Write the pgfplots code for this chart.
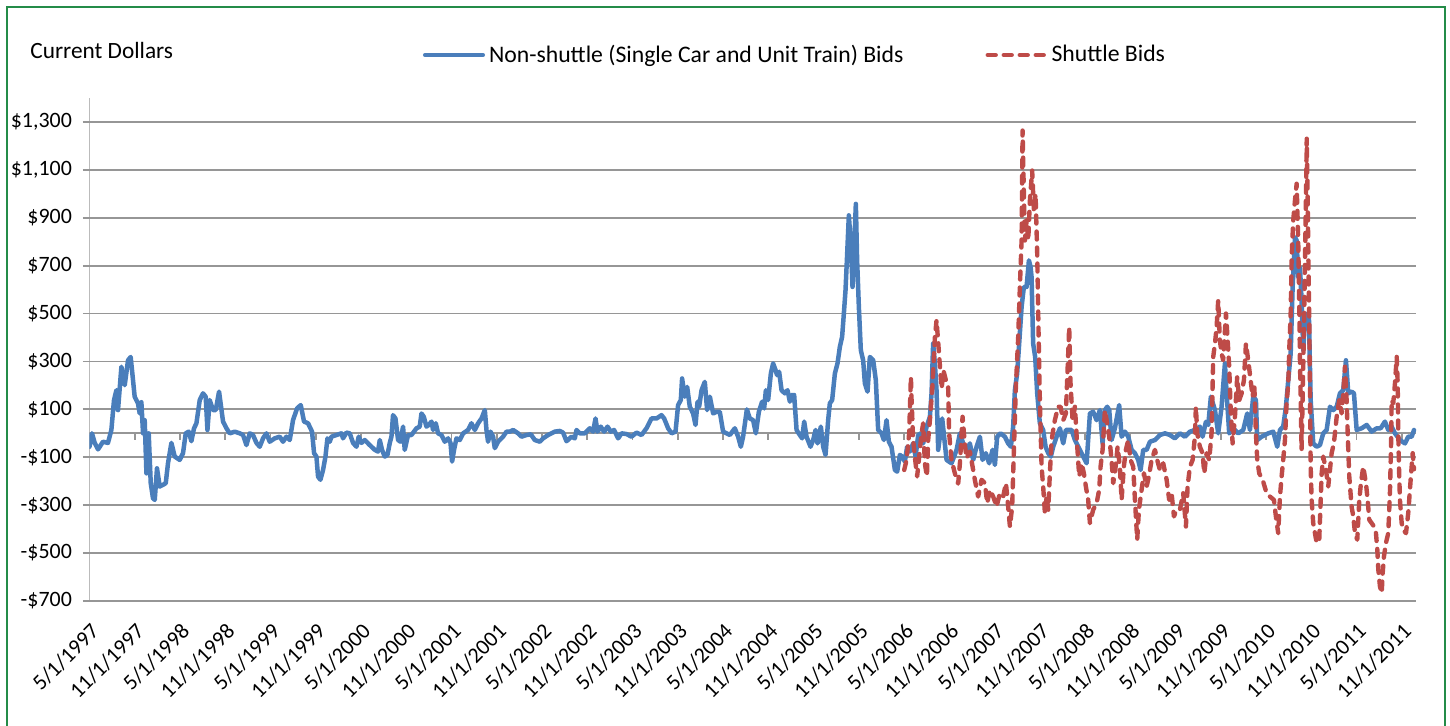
\documentclass[border=0pt]{standalone}
\usepackage{pgfplots}
\pgfplotsset{compat=1.18}
\usepackage{fontspec}
\setmainfont{Carlito}
\definecolor{nsblue}{RGB}{74,126,187}
\definecolor{shred}{RGB}{190,75,72}
\definecolor{gridgray}{RGB}{150,150,150}
\definecolor{framegreen}{RGB}{36,140,72}
\pgfplotstableread{
m v
0.00 -56
0.33 0
0.69 -40
1.13 -67
1.79 -35
2.45 -40
2.90 14
3.25 139
3.57 180
3.78 97
4.23 278
4.67 201
5.11 305
5.46 319
5.99 153
6.43 125
6.66 83
6.88 130
7.10 0
7.32 55
7.55 -167
7.85 0
8.12 -208
8.42 -271
8.65 -278
8.95 -146
9.31 -222
9.75 -215
10.11 -208
10.41 -125
10.86 -40
11.30 -97
11.96 -111
12.40 -83
12.76 0
13.16 7
13.51 -33
13.86 21
14.18 42
14.62 139
15.05 167
15.41 153
15.64 14
15.94 139
16.38 97
16.74 97
17.18 174
17.71 49
18.16 21
18.59 0
19.26 7
19.92 0
20.36 -7
20.81 -49
21.25 0
21.68 -7
22.14 -40
22.57 -56
23.01 -21
23.46 0
23.90 -35
24.56 -21
25.23 -14
25.66 -35
26.11 -14
26.55 -28
26.99 55
27.52 104
28.01 118
28.45 49
28.98 42
29.51 7
29.78 -83
30.09 -97
30.31 -181
30.62 -194
30.97 -153
31.29 -97
31.55 -21
31.86 -35
32.08 -14
32.75 -7
33.41 0
33.62 -21
34.07 3
34.51 0
34.95 -40
35.40 -56
35.70 -14
36.06 -40
36.50 -28
37.16 -49
37.83 -69
38.26 -76
38.49 -28
38.79 -69
39.15 -97
39.51 -90
39.82 -40
40.04 -14
40.25 76
40.57 62
40.92 -28
41.23 -35
41.58 28
41.80 -69
42.24 -7
42.69 -7
43.36 21
43.79 28
44.02 83
44.33 69
44.68 28
44.99 35
45.35 49
45.56 14
45.92 42
46.22 0
46.67 -7
47.11 -35
47.55 -21
47.87 -40
48.08 -118
48.34 -69
48.66 -21
49.10 -28
49.54 0
50.20 14
50.65 42
51.09 14
51.53 42
51.98 62
52.42 97
52.64 14
52.85 -35
53.17 7
53.52 -14
53.74 -62
54.18 -35
54.84 -14
55.29 7
55.73 7
56.17 14
56.83 0
57.28 -14
57.95 -7
58.52 -4
59.05 -28
59.71 -35
60.15 -21
60.81 -7
61.70 7
62.36 10
62.80 3
63.25 -33
63.92 -14
64.35 -21
64.58 14
65.02 0
65.68 0
66.34 21
66.78 7
67.10 62
67.36 7
67.80 28
68.24 7
68.69 28
69.13 7
69.56 14
70.10 -21
70.55 0
71.21 -3
71.87 -14
72.54 3
73.20 -7
73.86 21
74.52 62
75.19 62
75.85 76
76.20 62
76.73 21
77.18 0
77.71 7
78.05 118
78.41 139
78.58 229
78.94 153
79.25 194
79.60 111
80.04 83
80.36 35
80.63 132
80.84 111
81.16 180
81.59 215
81.90 97
82.26 153
82.70 83
83.15 90
83.58 90
84.02 7
84.47 0
84.91 -7
85.57 21
86.01 -14
86.37 -56
86.67 -14
87.17 100
87.56 62
88.00 55
88.36 0
88.76 90
89.19 132
89.46 104
89.69 180
89.99 139
90.35 250
90.65 292
90.97 264
91.18 243
91.45 257
91.77 180
92.20 167
92.56 180
92.87 132
93.09 160
93.44 160
93.76 14
94.19 -7
94.50 -21
94.77 49
95.08 -14
95.61 -56
95.96 -28
96.28 14
96.54 -42
96.98 28
97.29 -56
97.60 -90
97.95 55
98.17 125
98.48 139
98.84 250
99.19 292
99.50 361
99.80 403
100.03 500
100.25 597
100.47 750
100.69 910
100.96 792
101.18 611
101.40 778
101.62 958
101.79 722
102.02 528
102.28 347
102.59 305
102.82 208
103.17 174
103.48 319
103.92 305
104.27 222
104.58 14
105.03 0
105.34 -28
105.69 55
106.00 -35
106.35 -56
106.80 -153
107.10 -160
107.46 -90
107.76 -97
108.12 -118
108.42 -56
108.78 -76
109.22 -42
109.54 -97
109.89 -7
110.24 0
110.55 -42
111.00 28
111.44 69
111.66 167
111.87 375
112.10 292
112.32 180
112.54 -69
113.07 62
113.65 -111
114.31 -125
114.98 -69
115.42 0
115.85 -42
116.38 -69
116.74 -42
117.18 -111
117.63 -56
118.07 -14
118.42 -111
118.86 -83
119.30 -125
119.75 -69
120.06 -132
120.36 -14
120.81 0
121.38 -14
121.82 -42
122.18 -56
122.48 28
122.71 180
123.01 250
123.28 375
123.60 528
123.90 611
124.26 611
124.57 722
124.79 694
124.92 653
125.13 375
125.40 319
125.67 167
126.02 42
126.46 14
126.78 -56
127.13 -83
127.48 -97
127.79 -56
128.24 -14
128.68 21
129.12 -42
129.47 14
130.23 14
130.67 -28
131.33 -69
131.77 -97
132.22 -125
132.66 83
133.09 90
133.54 55
133.98 97
134.34 -42
134.65 97
134.95 111
135.22 97
135.53 -28
135.97 21
136.54 118
136.86 -14
137.30 7
137.74 -14
138.19 -69
138.63 -83
139.06 -111
139.38 -153
139.73 -69
140.18 -69
140.62 -35
141.28 -28
141.94 -7
142.60 0
143.27 -7
143.93 -21
144.59 0
145.26 -14
145.92 7
146.58 14
147.24 28
147.60 -14
148.04 48
148.35 35
148.70 153
149.24 97
149.67 0
150.12 111
150.56 292
150.79 167
151.13 0
151.66 21
152.32 0
152.99 14
153.52 83
153.88 14
154.31 153
154.67 139
154.85 -28
155.43 -14
156.30 0
156.97 7
157.50 -56
157.86 14
158.29 28
158.65 111
158.96 222
159.28 333
159.54 611
159.85 819
160.07 805
160.28 653
160.51 694
160.73 555
160.95 347
161.17 486
161.48 500
161.70 486
161.93 139
162.27 -42
162.73 -56
163.16 -49
163.60 0
164.05 14
164.49 111
164.93 97
165.38 111
165.81 167
166.25 180
166.61 305
166.92 167
167.36 174
167.67 167
168.03 14
168.69 21
169.36 35
170.02 7
170.68 21
171.21 21
171.78 49
172.22 14
172.67 28
173.11 0
173.77 -28
174.44 -42
174.87 -14
175.33 -14
175.63 14
}\nonshuttle
\pgfplotstableread{
m v
108.03 -153
108.35 -111
108.69 0
108.92 236
109.01 139
109.22 -28
109.54 -125
109.75 -180
110.11 -69
110.33 0
110.55 42
110.77 -125
111.04 -180
111.21 -28
111.44 55
111.77 194
112.10 400
112.32 472
112.54 380
112.76 285
112.99 187
113.25 260
113.56 222
113.86 194
113.99 0
114.31 -111
114.75 -167
115.19 -210
115.42 -125
115.77 69
116.08 -48
116.30 -104
116.74 -76
117.10 -139
117.40 -194
117.84 -264
118.29 -194
118.73 -208
119.04 -292
119.39 -236
119.83 -264
120.28 -306
120.72 -250
121.16 -264
121.52 -208
121.82 -306
122.05 -389
122.35 -306
122.58 -69
122.84 194
123.15 403
123.37 611
123.60 805
123.73 1264
123.90 1000
124.04 805
124.26 889
124.48 805
124.70 972
125.00 1097
125.23 930
125.45 1000
125.67 750
125.85 417
126.02 139
126.25 -139
126.46 -222
126.69 -333
126.92 -264
127.13 -319
127.35 -167
127.58 -28
128.01 55
128.45 111
128.77 111
129.12 55
129.47 83
129.78 333
129.91 444
130.09 208
130.36 55
130.67 111
130.98 -56
131.24 -180
131.56 -125
131.86 -167
132.12 -222
132.43 -278
132.66 -375
133.09 -319
133.54 -292
133.89 -236
134.07 -139
134.34 -69
134.65 97
134.87 55
135.22 -14
135.53 -111
135.75 -208
136.07 -139
136.33 -56
136.63 -139
136.86 -278
137.16 -139
137.43 -69
137.74 -28
138.05 -111
138.40 -139
138.63 -278
138.93 -444
139.16 -319
139.51 -236
139.82 -167
140.18 -222
140.48 -180
140.84 -111
141.28 -69
141.58 -111
141.94 -153
142.38 -125
142.83 -194
143.17 -278
143.49 -250
143.80 -347
144.15 -319
144.59 -319
145.03 -250
145.39 -389
145.61 -222
145.92 -139
146.28 -111
146.58 -14
146.71 111
146.89 0
147.24 -56
147.60 -83
147.82 -167
148.13 -83
148.48 -111
148.79 0
149.01 319
149.24 375
149.46 444
149.67 555
149.89 389
150.12 333
150.33 305
150.70 500
150.87 417
151.13 278
151.31 111
151.58 -42
151.89 69
152.19 236
152.46 139
152.78 167
153.08 222
153.35 375
153.65 305
153.97 222
154.23 153
154.45 208
154.67 0
154.85 -111
155.11 -167
155.56 -194
156.09 -250
156.53 -264
157.06 -278
157.32 -347
157.63 -417
157.86 -264
158.08 -180
158.29 -111
158.52 -28
158.74 125
158.96 208
159.09 347
159.28 500
159.41 736
159.62 889
159.85 972
160.07 1042
160.28 805
160.41 555
160.51 305
160.73 -69
160.86 139
161.03 417
161.17 700
161.30 972
161.41 1230
161.52 1014
161.61 778
161.74 486
161.83 208
161.93 -139
162.06 -278
162.27 -375
162.73 -458
163.07 -444
163.26 -278
163.39 -167
163.60 -97
163.96 -153
164.26 -222
164.49 -153
164.71 -83
165.01 -42
165.38 69
165.72 139
166.04 83
166.25 167
166.48 278
166.70 139
166.84 0
167.05 -180
167.36 -306
167.58 -347
167.81 -417
168.11 -444
168.38 -278
168.60 -208
168.90 -139
169.26 -208
169.49 -278
169.70 -361
170.02 -375
170.33 -389
170.59 -417
170.77 -486
170.90 -569
171.12 -639
171.35 -667
171.48 -583
171.65 -514
171.91 -458
172.22 -417
172.44 -250
172.58 -69
172.67 139
172.88 125
173.11 208
173.34 319
173.47 208
173.55 0
173.64 -139
173.77 -278
174.00 -375
174.21 -403
174.57 -417
174.87 -333
175.19 -194
175.46 -83
175.63 -150
}\shuttle
\begin{document}
\begin{tikzpicture}
\path[use as bounding box] (0,0) rectangle (725bp,363bp);
\draw[framegreen, line width=1.1bp] (3.5bp,-3bp) -- (3.5bp,359.5bp) -- (722.5bp,359.5bp) -- (722.5bp,-3bp);
\node[anchor=base west, inner sep=0pt, font=\fontsize{11.7}{14}\selectfont] at (15bp,333.5bp) {Current Dollars};
\begin{axis}[
  at={(44.75bp,62.5bp)}, anchor=south west,
  scale only axis, width=663.25bp, height=251.5bp,
  xmin=0, xmax=175.9, ymin=-700, ymax=1400,
  axis line style={draw=none},
  tick pos=left, tick align=outside, major tick length=3.3bp,
  ytick={-700,-500,...,1300},
  yticklabels={-\$700,-\$500,-\$300,-\$100,\$100,\$300,\$500,\$700,\$900,{\$1,100},{\$1,300}},
  xtick={0,6,...,174},
  xticklabels={5/1/1997,11/1/1997,5/1/1998,11/1/1998,5/1/1999,11/1/1999,5/1/2000,11/1/2000,5/1/2001,11/1/2001,5/1/2002,11/1/2002,5/1/2003,11/1/2003,5/1/2004,11/1/2004,5/1/2005,11/1/2005,5/1/2006,11/1/2006,5/1/2007,11/1/2007,5/1/2008,11/1/2008,5/1/2009,11/1/2009,5/1/2010,11/1/2010,5/1/2011,11/1/2011},
  xtick style={draw=none},
  ytick style={gridgray, line width=0.9bp},
  ymajorgrids, grid style={gridgray, line width=0.9bp},
  yticklabel style={font=\fontsize{11}{13}\selectfont, anchor=east, xshift=-2bp},
  xticklabel style={font=\fontsize{11}{13}\selectfont, yshift=-5.5bp, rotate=45, anchor=north east, inner sep=1bp},
  legend style={at={(0.5326,1.0855)}, anchor=center, draw=none, fill=none,
    font=\fontsize{11.9}{14}\selectfont, legend columns=2,
    /tikz/every even column/.append style={column sep=39bp}},
  legend cell align=left,
  legend image code/.code={\draw[#1] (0bp,0bp) -- (28.8bp,0bp);},
]
\draw[gridgray, line width=0.9bp] (axis cs:0,0) -- (axis cs:175.9,0);
\pgfplotsinvokeforeach{6,12,...,174}{\draw[gridgray, line width=0.9bp] (axis cs:#1,0) -- ++(0pt,-3.3bp);}
\draw[gridgray, line width=0.9bp] (axis cs:0,-700) -- (axis cs:0,1400);
\addplot[nsblue, line width=2.25bp, line join=round, line cap=round] table[x=m, y=v] {\nonshuttle};
\addlegendentry{Non-shuttle (Single Car and Unit Train) Bids}
\addplot[shred, line width=2.2bp, line join=round, line cap=round, dash pattern=on 4bp off 4bp] table[x=m, y=v] {\shuttle};
\addlegendentry{Shuttle Bids}
\end{axis}
\end{tikzpicture}
\end{document}
